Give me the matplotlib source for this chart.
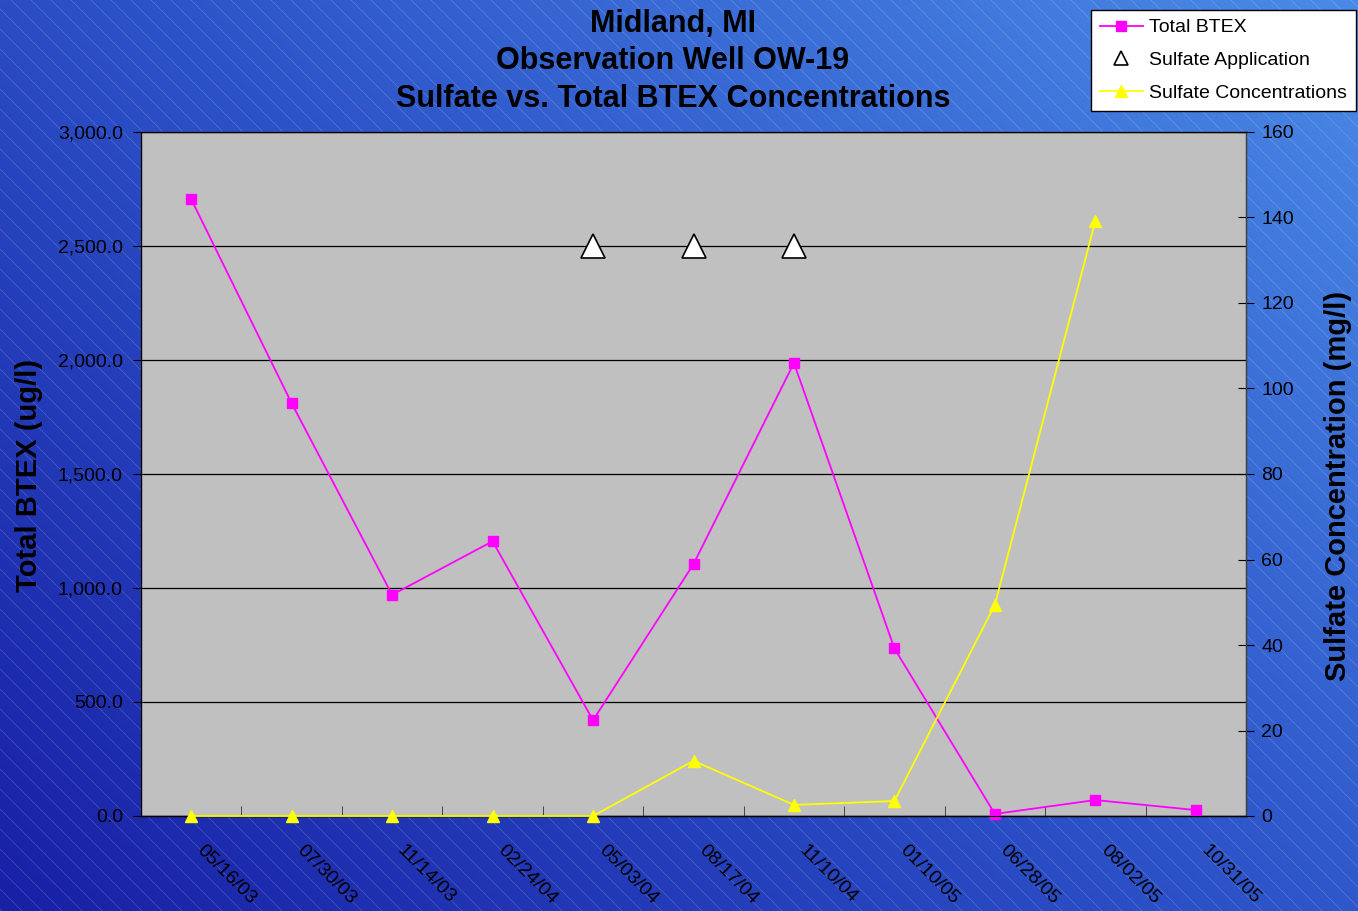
import numpy as np
import matplotlib
matplotlib.use("Agg")
import matplotlib.pyplot as plt
import matplotlib.transforms as mtrans
from matplotlib.ticker import FuncFormatter, MultipleLocator, FixedLocator
from matplotlib.colors import LinearSegmentedColormap

plt.rcParams['font.family'] = ['Liberation Sans', 'DejaVu Sans']

# ---------------- data ----------------
dates = ["05/16/03", "07/30/03", "11/14/03", "02/24/04", "05/03/04", "08/17/04",
         "11/10/04", "01/10/05", "06/28/05", "08/02/05", "10/31/05"]
total_btex = [2705, 1810, 970, 1205, 420, 1105, 1987, 735, 9, 70, 26]
sulfate_app_idx = [4, 5, 6]
sulfate_app_val = [2500, 2500, 2500]
sulfate_conc = [0, 0, 0, 0, 0, 12.9, 2.6, 3.5, 49.4, 139.2, np.nan]

title_lines = ["Midland, MI", "Observation Well OW-19",
               "Sulfate vs. Total BTEX Concentrations"]

W, H = 1358, 911
fig = plt.figure(figsize=(W / 100, H / 100), dpi=100)

# ---------------- background gradient with diagonal hatch ----------------
bg = fig.add_axes([0, 0, 1, 1])
bg.axis('off')
cmap = LinearSegmentedColormap.from_list('bg', ['#1820a6', '#2c52c8', '#4a8ae6'])
xx, yy = np.meshgrid(np.linspace(0, 1, 200), np.linspace(0, 1, 200))
grad = 0.55 * xx + 0.45 * yy
bg.imshow(grad, extent=[0, W, 0, H], origin='lower', cmap=cmap, aspect='auto', zorder=0)
for c in np.arange(-W, W + H + 20, 20):
    bg.plot([c - H, c], [H, 0], color='white', lw=0.5, alpha=0.2, zorder=1)
bg.set_xlim(0, W)
bg.set_ylim(0, H)

# ---------------- main axes ----------------
x0, x1, yt, yb = 141, 1246, 132, 816
ax = fig.add_axes([x0 / W, (H - yb) / H, (x1 - x0) / W, (yb - yt) / H])
ax.set_facecolor('#c0c0c0')
x = np.arange(len(dates))
ax.set_xlim(-0.5, len(dates) - 0.5)
ax.set_ylim(0, 3000)
ax.yaxis.set_major_locator(MultipleLocator(500))
ax.yaxis.set_major_formatter(FuncFormatter(lambda v, p: f"{v:,.1f}"))
ax.grid(axis='y', color='black', lw=0.9)
ax.set_axisbelow(True)
for s in ax.spines.values():
    s.set_color('#404040')
    s.set_linewidth(1.0)
ax.spines['bottom'].set_color('black')

ax.set_xticks(x)
ax.set_xticklabels([])
ax.xaxis.set_minor_locator(FixedLocator(np.arange(-0.5, len(dates), 1.0)))
ax.tick_params(axis='x', which='major', length=0)
ax.tick_params(axis='x', which='minor', direction='in', length=7, color='#303030')
ax.tick_params(axis='y', which='major', direction='out', length=6, labelsize=14, pad=7)

# rotated date labels under each category
lab_tr = mtrans.blended_transform_factory(ax.transData, ax.transAxes) + \
    mtrans.ScaledTranslation(14 / 100, -26 / 100, fig.dpi_scale_trans)
for xi, d in zip(x, dates):
    ax.text(xi, 0, d, transform=lab_tr, rotation=-45, rotation_mode='anchor',
            ha='left', va='top', fontsize=14, clip_on=False)

l1, = ax.plot(x, total_btex, color='#ff00ff', lw=1.3, marker='s', markersize=7,
              label='Total BTEX', zorder=4, clip_on=False)
l2, = ax.plot(sulfate_app_idx, sulfate_app_val, ls='none', marker='^', markersize=17,
              markerfacecolor='white', markeredgecolor='black', markeredgewidth=1.2,
              label='Sulfate Application', zorder=5)

ax2 = ax.twinx()
ax2.set_ylim(0, 160)
ax2.yaxis.set_major_locator(MultipleLocator(20))
ax2.tick_params(axis='y', direction='inout', length=12, labelsize=14, pad=5)
ax2.spines['right'].set_color('#404040')
l3, = ax2.plot(x, sulfate_conc, color='#ffff00', lw=1.3, marker='^', markersize=9,
               label='Sulfate Concentrations', zorder=4, clip_on=False)

# ---------------- text ----------------
for txt, yp in zip(title_lines, [21, 58, 96]):
    fig.text(673 / W, 1 - (yp + 3) / H, txt, ha='center', va='center', fontsize=22,
             fontweight='bold')
fig.text(29 / W, 1 - 475 / H, "Total BTEX (ug/l)", rotation=90, ha='center',
         va='center', fontsize=21, fontweight='bold')
fig.text(1338 / W, 1 - 486 / H, "Sulfate Concentration (mg/l)", rotation=90,
         ha='center', va='center', fontsize=21, fontweight='bold')

leg = fig.legend(handles=[l1, l2, l3], loc='upper right',
                 bbox_to_anchor=(1356 / W, 1 - 10 / H), fontsize=14,
                 fancybox=False, edgecolor='black', framealpha=1, borderaxespad=0,
                 handlelength=2.2, labelspacing=0.78, borderpad=0.45, handletextpad=0.35)
leg.get_frame().set_linewidth(1.0)
for h in leg.legend_handles:
    if h.get_label() == 'Sulfate Application':
        h.set_markersize(10)

fig.savefig("out.png", dpi=100)
